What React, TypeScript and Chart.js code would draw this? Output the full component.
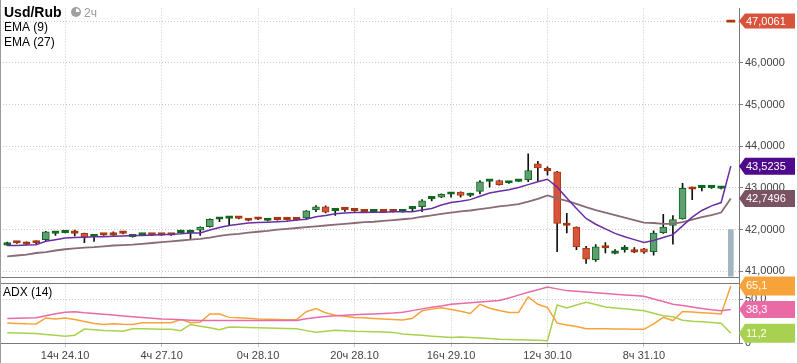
import React, { useEffect, useRef } from "react";
import { Chart, registerables } from "chart.js";
Chart.register(...registerables);

// ---- data ----
const xTickIndex = [6, 16, 26, 36, 46, 56, 66];
const xTickLabels = ["14ч 24.10", "4ч 27.10", "0ч 28.10", "20ч 28.10", "16ч 29.10", "12ч 30.10", "8ч 31.10"];

const opens = [41.63, 41.70, 41.70, 41.70, 41.76, 41.91, 41.93, 41.94, 41.91, 41.83, 41.89, 41.89, 41.93, 41.83, 41.87, 41.89, 41.89, 41.89, 41.93, 41.93, 41.99, 42.07, 42.25, 42.27, 42.29, 42.24, 42.27, 42.22, 42.26, 42.26, 42.26, 42.28, 42.48, 42.55, 42.45, 42.50, 42.47, 42.45, 42.43, 42.45, 42.45, 42.43, 42.50, 42.55, 42.74, 42.78, 42.85, 42.90, 42.82, 42.92, 43.16, 43.18, 43.12, 43.16, 43.20, 43.58, 43.46, 43.39, 42.14, 42.06, 41.55, 41.28, 41.60, 41.43, 41.52, 41.50, 41.54, 41.47, 41.93, 42.10, 42.26, 43.00, 43.01, 43.01, 42.99];
const highs = [41.70, 41.71, 41.71, 41.73, 41.96, 41.94, 41.96, 41.99, 41.92, 41.89, 41.90, 41.95, 41.94, 41.85, 41.89, 41.90, 41.90, 41.90, 41.99, 41.99, 42.07, 42.26, 42.28, 42.30, 42.30, 42.25, 42.28, 42.25, 42.27, 42.27, 42.28, 42.46, 42.58, 42.57, 42.51, 42.52, 42.48, 42.46, 42.46, 42.46, 42.46, 42.46, 42.54, 42.72, 42.78, 42.86, 42.88, 42.91, 42.88, 43.18, 43.19, 43.19, 43.15, 43.19, 43.82, 43.64, 43.51, 43.40, 42.39, 42.07, 41.60, 41.64, 41.69, 41.52, 41.62, 41.57, 41.55, 41.97, 42.37, 42.34, 43.11, 43.02, 43.04, 43.04, 43.02];
const lows = [41.62, 41.67, 41.64, 41.66, 41.72, 41.86, 41.92, 41.85, 41.69, 41.72, 41.86, 41.86, 41.90, 41.82, 41.86, 41.86, 41.86, 41.86, 41.92, 41.77, 41.86, 42.06, 42.19, 42.11, 42.26, 42.21, 42.24, 42.21, 42.23, 42.23, 42.22, 42.26, 42.43, 42.40, 42.34, 42.44, 42.44, 42.42, 42.42, 42.42, 42.42, 42.42, 42.45, 42.43, 42.69, 42.77, 42.78, 42.78, 42.79, 42.86, 43.02, 43.07, 43.11, 43.15, 43.15, 43.17, 43.31, 41.47, 41.92, 41.52, 41.19, 41.24, 41.44, 41.42, 41.46, 41.45, 41.43, 41.39, 41.91, 41.65, 42.25, 42.72, 42.93, 42.99, 42.98];
const closes = [41.66, 41.68, 41.65, 41.68, 41.95, 41.93, 41.95, 41.91, 41.82, 41.88, 41.87, 41.87, 41.91, 41.84, 41.88, 41.87, 41.87, 41.87, 41.98, 41.95, 42.06, 42.25, 42.27, 42.29, 42.27, 42.22, 42.25, 42.24, 42.24, 42.24, 42.24, 42.45, 42.55, 42.42, 42.50, 42.48, 42.45, 42.43, 42.45, 42.43, 42.43, 42.45, 42.52, 42.69, 42.76, 42.85, 42.87, 42.82, 42.87, 43.15, 43.18, 43.08, 43.14, 43.18, 43.42, 43.48, 43.41, 42.15, 42.10, 41.59, 41.29, 41.59, 41.56, 41.46, 41.57, 41.46, 41.46, 41.92, 42.06, 42.24, 42.99, 42.97, 43.03, 43.03, 43.01];

const lastIndex = 75;
const lastPrice = 47.0061;
const lastBarTop = 42.0;

const ema9 = [41.62, 41.62, 41.63, 41.64, 41.72, 41.76, 41.80, 41.81, 41.82, 41.83, 41.83, 41.84, 41.85, 41.86, 41.86, 41.87, 41.88, 41.89, 41.90, 41.92, 41.92, 41.99, 42.05, 42.10, 42.13, 42.16, 42.17, 42.18, 42.19, 42.20, 42.23, 42.25, 42.31, 42.34, 42.38, 42.40, 42.41, 42.41, 42.42, 42.42, 42.43, 42.43, 42.43, 42.47, 42.51, 42.59, 42.65, 42.68, 42.72, 42.80, 42.88, 42.92, 42.96, 43.01, 43.08, 43.15, 43.21, 43.02, 42.76, 42.51, 42.27, 42.13, 42.02, 41.91, 41.83, 41.76, 41.69, 41.74, 41.81, 41.88, 42.09, 42.30, 42.46, 42.57, 42.65, 43.5235];
const ema27 = [41.36, 41.38, 41.40, 41.44, 41.46, 41.50, 41.53, 41.55, 41.57, 41.58, 41.60, 41.62, 41.63, 41.64, 41.66, 41.68, 41.70, 41.72, 41.74, 41.76, 41.78, 41.81, 41.85, 41.88, 41.90, 41.93, 41.95, 41.97, 42.00, 42.02, 42.04, 42.06, 42.08, 42.10, 42.12, 42.14, 42.16, 42.18, 42.19, 42.21, 42.23, 42.25, 42.27, 42.31, 42.34, 42.38, 42.41, 42.44, 42.46, 42.49, 42.52, 42.56, 42.58, 42.61, 42.67, 42.74, 42.82, 42.75, 42.69, 42.62, 42.54, 42.47, 42.41, 42.35, 42.29, 42.23, 42.17, 42.16, 42.14, 42.14, 42.18, 42.24, 42.30, 42.35, 42.41, 42.7496];

const diPlus = [22.7, 22.2, 21.8, 21.7, 28.6, 27.4, 28.6, 26.7, 24.4, 22.2, 21.1, 21.9, 21.3, 21.1, 23.0, 23.0, 23.0, 23.0, 26.7, 23.0, 23.7, 33.0, 33.0, 29.2, 28.7, 28.1, 27.4, 27.2, 26.9, 26.6, 26.7, 35.6, 39.2, 34.4, 31.7, 30.6, 29.2, 28.7, 28.0, 27.4, 26.8, 26.3, 28.1, 36.7, 38.6, 40.3, 38.3, 36.1, 33.7, 44.1, 39.7, 37.0, 34.8, 34.8, 52.6, 44.1, 40.3, 22.6, 20.6, 18.7, 16.3, 16.2, 16.1, 16.0, 15.9, 15.8, 15.6, 21.9, 29.2, 25.6, 35.9, 35.2, 34.4, 33.8, 33.0, 65.1];
const adx = [27.8, 28.1, 28.6, 28.9, 31.1, 33.3, 35.0, 35.6, 34.4, 33.6, 32.7, 31.8, 30.9, 30.0, 29.1, 28.3, 27.4, 27.0, 26.6, 26.0, 25.6, 25.6, 25.6, 25.6, 25.6, 25.6, 25.6, 25.6, 25.6, 25.6, 25.6, 27.6, 29.1, 30.3, 31.0, 31.6, 32.2, 32.7, 33.1, 33.6, 34.1, 35.0, 36.9, 38.9, 40.8, 42.3, 44.2, 45.0, 45.9, 46.7, 47.7, 48.4, 51.3, 54.6, 57.8, 60.6, 63.7, 61.7, 59.7, 58.9, 58.0, 57.2, 56.3, 55.6, 54.7, 54.0, 53.3, 50.2, 47.2, 44.1, 42.7, 41.0, 39.4, 37.8, 36.7, 38.3];
const diMinus = [11.7, 11.3, 11.0, 10.7, 9.8, 8.8, 7.8, 8.9, 15.9, 15.0, 14.3, 13.9, 13.3, 16.3, 16.1, 16.0, 15.8, 15.6, 14.1, 21.1, 19.2, 17.3, 15.2, 18.1, 17.9, 17.7, 17.4, 17.1, 16.9, 16.6, 16.2, 14.1, 12.2, 13.3, 14.4, 14.0, 13.3, 13.0, 12.8, 12.4, 12.1, 10.3, 9.4, 8.7, 7.8, 7.1, 6.3, 6.9, 6.4, 5.8, 5.1, 4.4, 4.1, 3.7, 3.3, 3.0, 2.6, 43.3, 40.0, 43.3, 46.3, 43.9, 41.1, 39.8, 38.9, 37.8, 36.7, 33.9, 31.1, 30.0, 26.0, 24.9, 24.1, 23.3, 22.6, 11.2];

const priceTicks = [41, 42, 43, 44, 45, 46, 47];
const adxTicks = [0, 50];

// ---- styles ----
const GREEN_FILL = "#5e9e70";
const GREEN_EDGE = "#0c6a1c";
const RED_FILL = "#d9533c";
const RED_EDGE = "#a8380c";
const C_EMA9 = "#6a2ea4";
const C_EMA27 = "#8a6a78";
const C_PLUS = "#f7a33a";
const C_ADX = "#e96aa6";
const C_MINUS = "#a9d150";
const GRID = "#c9c9c9";
const AXIS = "#7a7a7a";
const FONT = "'Liberation Sans', Arial, sans-serif";

const idx = (arr: number[]) => arr.map((v, i) => ({ x: i, y: v }));

export default function App() {
  const ref = useRef<HTMLCanvasElement | null>(null);

  useEffect(() => {
    if (!ref.current) return;
    const isUp = (i: number) => closes[i] >= opens[i];
    const isDash = (i: number) => Math.abs(closes[i] - opens[i]) < 0.06;
    const bodyFill = opens.map((_, i) =>
      isDash(i) ? (isUp(i) ? GREEN_EDGE : RED_EDGE) : isUp(i) ? GREEN_FILL : RED_FILL
    );
    const bodyEdge = opens.map((_, i) => (isUp(i) ? GREEN_EDGE : RED_EDGE));

    const decor = {
      id: "decor",
      afterDraw(chart: any) {
        const ctx = chart.ctx as CanvasRenderingContext2D;
        const ca = chart.chartArea;
        const y = chart.scales.y;
        const y2 = chart.scales.y2;
        ctx.save();
        // gap between panels
        const split = y.bottom;
        const adxTop = y2.getPixelForValue(68);
        ctx.fillStyle = "#fff";
        ctx.fillRect(0, split, ca.right, adxTop - split);
        ctx.strokeStyle = AXIS;
        ctx.lineWidth = 1;
        ctx.beginPath();
        ctx.moveTo(0, Math.round(split) + 0.5);
        ctx.lineTo(ca.right, Math.round(split) + 0.5);
        ctx.moveTo(0, Math.round(adxTop) + 0.5);
        ctx.lineTo(ca.right, Math.round(adxTop) + 0.5);
        ctx.stroke();
        // frame
        ctx.strokeStyle = "#9a9a9a";
        ctx.beginPath();
        ctx.moveTo(0.5, 0);
        ctx.lineTo(0.5, chart.height);
        ctx.stroke();
        ctx.strokeStyle = "#d0d0d0";
        ctx.beginPath();
        ctx.moveTo(chart.width - 0.5, 0);
        ctx.lineTo(chart.width - 0.5, chart.height);
        ctx.stroke();

        // titles
        ctx.fillStyle = "#000";
        ctx.textBaseline = "alphabetic";
        ctx.textAlign = "left";
        ctx.font = `bold 14px ${FONT}`;
        ctx.fillText("Usd/Rub", 4, 17);
        // clock icon
        ctx.fillStyle = "#a0a0a0";
        ctx.beginPath();
        ctx.arc(76, 12, 5, 0, Math.PI * 2);
        ctx.fill();
        ctx.fillStyle = "#fff";
        ctx.beginPath();
        ctx.moveTo(76, 12);
        ctx.arc(76, 12, 3.5, -Math.PI / 2, 0);
        ctx.closePath();
        ctx.fill();
        ctx.fillStyle = "#999";
        ctx.font = `12px ${FONT}`;
        ctx.fillText("2ч", 84, 17);
        ctx.fillStyle = "#000";
        ctx.font = `12px ${FONT}`;
        ctx.fillText("EMA (9)", 4, 31);
        ctx.fillText("EMA (27)", 4, 46);
        ctx.fillText("ADX (14)", 3, 296);

        // value badges
        const badges = [
          { s: y, v: lastPrice, c: "#d9533c", t: "47,0061", h: 15 },
          { s: y, v: ema9[ema9.length - 1], c: "#4e0a8a", t: "43,5235", h: 17 },
          { s: y, v: ema27[ema27.length - 1], c: "#7b5262", t: "42,7496", h: 17 },
          { s: y2, v: diPlus[diPlus.length - 1], c: "#f7a33a", t: "65,1", h: 19 },
          { s: y2, v: adx[adx.length - 1], c: "#ea6aa6", t: "38,3", h: 17 },
          { s: y2, v: diMinus[diMinus.length - 1], c: "#a9d150", t: "11,2", h: 19 },
        ];
        const x0 = ca.right;
        for (const b of badges) {
          const yy = b.s.getPixelForValue(b.v);
          const hh = b.h / 2;
          ctx.fillStyle = b.c;
          ctx.beginPath();
          ctx.moveTo(x0, yy);
          ctx.lineTo(x0 + 6, yy - hh);
          ctx.lineTo(795, yy - hh);
          ctx.lineTo(795, yy + hh);
          ctx.lineTo(x0 + 6, yy + hh);
          ctx.closePath();
          ctx.fill();
          ctx.fillStyle = "#fff";
          ctx.font = `11px ${FONT}`;
          ctx.textBaseline = "middle";
          ctx.fillText(b.t, x0 + 7, yy + 0.5);
        }
        ctx.restore();
      },
    };

    const chart = new Chart(ref.current, {
      type: "bar",
      data: {
        datasets: [
          {
            type: "line",
            data: idx(ema9),
            yAxisID: "y",
            borderColor: C_EMA9,
            borderWidth: 1.5,
            pointRadius: 0,
            order: 0,
          } as any,
          {
            type: "line",
            data: idx(ema27),
            yAxisID: "y",
            borderColor: C_EMA27,
            borderWidth: 1.8,
            pointRadius: 0,
            order: 0,
          } as any,
          {
            type: "bar",
            data: opens.map((o, i) => ({ x: i, y: [o, closes[i]] })),
            yAxisID: "y",
            backgroundColor: bodyFill,
            borderColor: bodyEdge,
            borderWidth: 1,
            borderSkipped: false,
            barThickness: 7,
            minBarLength: 2.5,
            grouped: false,
            order: 1,
          } as any,
          {
            type: "bar",
            data: lows.map((l, i) => ({ x: i, y: [l, highs[i]] })),
            yAxisID: "y",
            backgroundColor: "#111",
            barThickness: 1,
            grouped: false,
            order: 2,
          } as any,
          {
            type: "bar",
            data: [{ x: lastIndex, y: [40.871, lastBarTop] }],
            yAxisID: "y",
            backgroundColor: "#a2b5c1",
            barThickness: 5,
            grouped: false,
            order: 2,
          } as any,
          {
            type: "bar",
            data: [{ x: lastIndex, y: [lastPrice - 0.025, lastPrice + 0.025] }],
            yAxisID: "y",
            backgroundColor: "#b3380c",
            barThickness: 8,
            grouped: false,
            order: 1,
          } as any,
          {
            type: "line",
            data: idx(adx),
            yAxisID: "y2",
            borderColor: C_ADX,
            borderWidth: 1.5,
            pointRadius: 0,
            order: 0,
          } as any,
          {
            type: "line",
            data: idx(diPlus),
            yAxisID: "y2",
            borderColor: C_PLUS,
            borderWidth: 1.5,
            pointRadius: 0,
            order: 0,
          } as any,
          {
            type: "line",
            data: idx(diMinus),
            yAxisID: "y2",
            borderColor: C_MINUS,
            borderWidth: 1.5,
            pointRadius: 0,
            order: 0,
          } as any,
        ],
      },
      options: {
        responsive: false,
        animation: false,
        devicePixelRatio: 1,
        layout: { padding: 0 },
        plugins: { legend: { display: false }, tooltip: { enabled: false } },
        scales: {
          x: {
            type: "linear",
            min: -0.75,
            max: 75.85,
            offset: false,
            afterBuildTicks: (s: any) => {
              s.ticks = xTickIndex.map((v) => ({ value: v }));
            },
            afterFit: (s: any) => {
              s.height = 20;
            },
            ticks: {
              autoSkip: false,
              maxRotation: 0,
              color: "#444",
              font: { family: FONT, size: 11 },
              padding: 2,
              callback: (v: any) => xTickLabels[xTickIndex.indexOf(Number(v))] ?? "",
            },
            grid: { color: GRID, tickLength: 4, tickColor: GRID, offset: false },
            border: { color: AXIS, dash: [1, 2] },
          },
          y: {
            type: "linear",
            position: "right",
            stack: "panels",
            stackWeight: 275,
            min: 40.871,
            max: 47.304,
            afterBuildTicks: (s: any) => {
              s.ticks = priceTicks.map((v) => ({ value: v }));
            },
            afterFit: (s: any) => {
              s.width = 59;
            },
            ticks: {
              color: "#444",
              font: { family: FONT, size: 11 },
              padding: 2,
              callback: (v: any) => Number(v).toFixed(4).replace(".", ","),
            },
            grid: { color: GRID, tickLength: 4, tickColor: AXIS, tickBorderDash: [] },
            border: { color: AXIS, dash: [1, 2] },
          },
          y2: {
            type: "linear",
            position: "right",
            stack: "panels",
            stackWeight: 68,
            min: 0,
            max: 75.56,
            afterBuildTicks: (s: any) => {
              s.ticks = adxTicks.map((v) => ({ value: v }));
            },
            afterFit: (s: any) => {
              s.width = 59;
            },
            ticks: {
              color: "#444",
              font: { family: FONT, size: 11 },
              padding: 2,
              callback: (v: any) => (Number(v) === 0 ? "0" : Number(v).toFixed(1).replace(".", ",")),
            },
            grid: { color: GRID, tickLength: 4, tickColor: AXIS, tickBorderDash: [] },
            border: { color: AXIS, dash: [1, 2] },
          },
        },
      } as any,
      plugins: [decor],
    });
    return () => chart.destroy();
  }, []);

  return (
    <div style={{ position: "fixed", left: 0, top: 0, width: 798, height: 363, background: "#fff" }}>
      <canvas ref={ref} width={798} height={363} style={{ display: "block", width: 798, height: 363 }} />
    </div>
  );
}
